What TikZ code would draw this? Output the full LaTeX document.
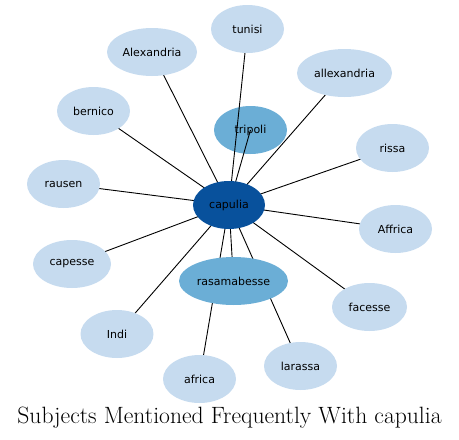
\documentclass[tikz,border=0pt]{standalone}
\usepackage{fontspec}
\newfontfamily\lblfont{DejaVu Sans}
\usetikzlibrary{shapes.geometric}
\definecolor{lightb}{HTML}{C6DBEF}
\definecolor{midb}{HTML}{6BAED6}
\definecolor{darkb}{HTML}{08519C}
\pgfdeclarelayer{bg}
\pgfdeclarelayer{mid}
\pgfsetlayers{bg,mid,main}
\begin{document}
\begin{tikzpicture}[x=1pt,y=-1pt,
  bub/.style={ellipse,fill=lightb,inner sep=0pt,minimum height=48pt,font=\lblfont\fontsize{11}{13}\selectfont,text=black},
  midbub/.style={bub,fill=midb},
  hub/.style={bub,fill=darkb},
  edge/.style={draw=black,line width=0.9pt}]
\useasboundingbox (0,0) rectangle (459,440);
\node[hub,minimum width=72pt] (capulia) at (229,205) {capulia};
\node[bub,minimum width=73pt] (tunisi) at (247.5,29) {tunisi};
\node[bub,minimum width=90pt] (alexandria) at (152,52) {Alexandria};
\node[bub,minimum width=95pt] (allexandria) at (344.5,73) {allexandria};
\node[bub,minimum width=73pt] (rissa) at (392.5,148) {rissa};
\node[bub,minimum width=73pt] (bernico) at (93.5,111) {bernico};
\node[bub,minimum width=73pt] (rausen) at (63.5,184) {rausen};
\node[bub,minimum width=73pt] (affrica) at (395.5,229) {Affrica};
\node[bub,minimum width=78pt] (capesse) at (72,264) {capesse};
\node[midbub,minimum width=109pt] (rasamabesse) at (233.5,281) {rasamabesse};
\node[bub,minimum width=75pt] (facesse) at (369.5,307) {facesse};
\node[bub,minimum width=73pt] (indi) at (117,334) {Indi};
\node[bub,minimum width=73pt] (larassa) at (300.5,366) {larassa};
\node[bub,minimum width=73pt] (africa) at (199.5,379) {africa};
\begin{pgfonlayer}{bg}
\node[midbub,minimum width=73pt] (tripoli) at (250.5,130) {tripoli};
\end{pgfonlayer}
\begin{pgfonlayer}{mid}
\foreach \n in {tunisi,alexandria,allexandria,rissa,bernico,rausen,affrica,capesse,rasamabesse,facesse,indi,larassa,africa,tripoli}
  \draw[edge] (capulia.center) -- (\n.center);
\end{pgfonlayer}
\node[font=\fontsize{23.6}{28}\selectfont] (title) at (229.5,418) {Subjects Mentioned Frequently With capulia};
\end{tikzpicture}
\end{document}
